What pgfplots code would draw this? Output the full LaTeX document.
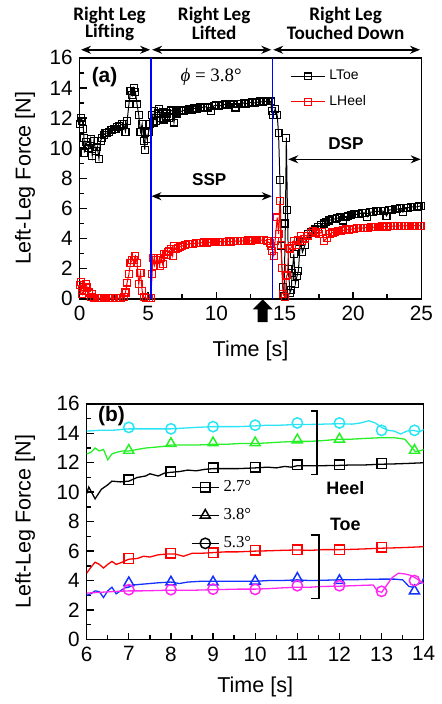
\documentclass[border=0pt]{standalone}
\usepackage{fontspec}
\setmainfont{Liberation Sans}
\newfontfamily\timesfont{Liberation Serif}
\newfontfamily\calfont{Carlito}
\usepackage{pgfplots}
\pgfplotsset{compat=1.18}
\usetikzlibrary{arrows.meta}
\definecolor{mycyan}{RGB}{40,228,245}
\definecolor{mygreen}{RGB}{40,240,40}
\definecolor{myblue}{RGB}{20,50,255}
\definecolor{mymag}{RGB}{255,40,240}
\pgfplotsset{
  common/.style={
    scale only axis, clip mode=individual,
    tick align=inside, tick pos=left,
    axis line style={line width=0.75pt},
    every tick/.style={line width=0.7pt, black},
    major tick length=3.5pt, minor tick length=2.3pt,
    ticklabel style={font=\fontsize{10.4}{12}\selectfont},
    /pgf/number format/assume math mode=true,
    label style={font=\fontsize{10.8}{12}\selectfont},
  }
}
\begin{document}
\begin{tikzpicture}[x=1pt,y=1pt]
\path (0,0) rectangle (217,-352);
% ---------------- panel (a)
\begin{axis}[common,
  at={(40pt,-149pt)}, anchor=south west, width=171.5pt, height=121pt,
  xmin=0, xmax=25, ymin=0, ymax=16,
  xtick={0,5,...,25}, ytick={0,2,...,16}, minor x tick num=1, minor y tick num=1,
  xlabel={Time [s]}, ylabel={Left-Leg Force [N]},
  xlabel style={at={(axis description cs:0.5,-0.215)}, anchor=center},
  ylabel style={at={(axis description cs:-0.16,0.5)}, anchor=center},
  legend style={at={(axis cs:15.25,15.6)}, anchor=north west, draw=none, fill=none,
    font=\fontsize{7}{8}\selectfont, row sep=2.2pt, inner sep=1pt},
  legend cell align=left,
]
\addplot[black, line width=0.5pt, mark=square, mark size=1.75pt, mark options={fill=white, solid, line width=0.55pt}] coordinates {
(0.00,11.6) (0.10,12.0) (0.20,11.8) (0.27,11.3) (0.31,10.7) (0.35,9.7) (0.45,10.4) (0.55,10.2)
(0.68,10.0) (0.80,10.6) (0.92,9.5) (1.04,10.5) (1.17,9.8) (1.29,10.1) (1.41,9.3) (1.53,10.5)
(1.65,10.7) (1.77,10.9) (1.89,11.0) (2.01,11.0) (2.14,11.1) (2.26,11.2) (2.38,11.2) (2.50,11.3)
(2.62,11.3) (2.74,11.4) (2.86,11.5) (2.98,11.5) (3.10,11.6) (3.22,11.6) (3.35,11.1) (3.47,11.8)
(3.60,12.9) (3.72,13.8) (3.84,13.5) (3.96,14.0) (4.08,13.7) (4.20,12.9) (4.32,12.2) (4.45,11.1)
(4.57,11.6) (4.69,10.5) (4.76,9.9) (4.81,11.0) (4.93,10.6) (5.05,11.1) (5.17,11.6) (5.30,12.2)
(5.40,11.7) (5.47,12.45) (5.60,11.8) (5.70,12.3) (5.83,12.6) (5.95,12.0) (6.07,12.4) (6.20,11.9)
(6.30,12.1) (6.42,12.3) (6.55,12.0) (6.68,12.5) (6.80,12.5) (6.90,11.7) (7.02,12.4) (7.15,12.3)
(7.30,12.5) (7.45,12.45) (7.60,12.5) (7.80,12.55) (8.00,12.6) (8.20,12.55) (8.40,12.65) (8.60,12.6)
(8.80,12.7) (9.00,12.7) (9.20,12.75) (9.40,12.7) (9.60,12.45) (9.80,12.8) (10.00,12.85) (10.20,12.8)
(10.40,12.85) (10.60,12.9) (10.80,12.85) (11.00,12.9) (11.20,12.9) (11.40,12.7) (11.60,12.95) (11.80,12.95)
(12.00,13.0) (12.20,12.95) (12.40,13.0) (12.60,13.05) (12.80,13.0) (13.00,13.05) (13.20,13.1) (13.40,13.05)
(13.60,13.1) (13.80,13.1) (13.97,13.1) (14.05,12.45) (14.15,12.2) (14.30,12.6) (14.45,12.2) (14.55,11.0)
(14.65,7.9) (14.75,3.5) (14.85,0.8) (14.95,0.2) (15.05,5.0) (15.12,10.7) (15.20,5.9) (15.28,2.0)
(15.38,0.4) (15.48,0.6) (15.55,1.7) (15.67,3.0) (15.78,1.0) (15.90,1.5) (16.00,1.85) (16.15,3.8)
(16.30,3.1) (16.50,3.6) (16.70,4.3) (16.90,4.4) (17.10,4.5) (17.25,4.6) (17.45,4.75) (17.65,4.9)
(17.85,5.0) (18.05,5.1) (18.25,5.2) (18.45,5.27) (18.65,5.3) (18.85,5.35) (19.05,5.4) (19.25,5.2)
(19.45,5.45) (19.65,5.5) (19.85,5.55) (20.05,5.6) (20.25,5.6) (20.45,5.65) (20.65,5.7) (20.85,5.7)
(21.05,5.45) (21.25,5.75) (21.45,5.75) (21.65,5.8) (21.85,5.8) (22.05,5.85) (22.25,5.8) (22.45,5.5)
(22.65,5.9) (22.85,5.9) (23.05,5.95) (23.25,5.95) (23.45,6.0) (23.65,5.75) (23.85,6.05) (24.05,6.05)
(24.25,6.1) (24.45,6.1) (24.65,6.1) (24.85,6.15) (25.00,6.15)
};
\addlegendentry{LToe}
\addplot[red, line width=0.5pt, mark=square, mark size=1.75pt, mark options={fill=white, solid, line width=0.55pt}] coordinates {
(0.00,0.9) (0.07,1.1) (0.15,0.6) (0.20,0.3) (0.32,0.5) (0.44,0.97) (0.56,0.75) (0.68,0.42)
(0.80,0.1) (0.92,0.35) (1.05,0.05) (1.25,0.05) (1.45,0.05) (1.65,0.05) (1.85,0.05) (2.05,0.05)
(2.25,0.05) (2.45,0.05) (2.65,0.05) (2.85,0.05) (3.05,0.05) (3.25,0.1) (3.35,0.42) (3.47,1.08)
(3.60,1.63) (3.72,2.4) (3.84,2.55) (3.96,2.6) (4.08,2.85) (4.20,2.4) (4.32,0.97) (4.45,1.74)
(4.57,0.53) (4.69,0.1) (4.85,0.05) (5.05,0.05) (5.20,0.05) (5.30,1.63) (5.35,2.7) (5.47,2.2)
(5.60,2.6) (5.70,2.7) (5.85,2.2) (5.95,2.7) (6.07,2.3) (6.20,3.0) (6.35,2.9) (6.45,3.1)
(6.56,3.2) (6.68,3.3) (6.80,2.85) (6.90,3.5) (7.05,3.3) (7.20,3.4) (7.35,3.45) (7.50,3.5)
(7.70,3.6) (7.90,3.62) (8.10,3.66) (8.30,3.65) (8.50,3.7) (8.70,3.7) (8.90,3.72) (9.10,3.75)
(9.30,3.72) (9.50,3.75) (9.70,3.78) (9.90,3.75) (10.10,3.78) (10.30,3.8) (10.50,3.78) (10.70,3.8)
(10.90,3.82) (11.10,3.8) (11.30,3.82) (11.50,3.85) (11.70,3.82) (11.90,3.85) (12.10,3.85) (12.30,3.87)
(12.50,3.85) (12.70,3.88) (12.90,3.9) (13.10,3.88) (13.30,3.9) (13.50,3.9) (13.70,3.84) (13.90,3.7)
(14.00,3.5) (14.10,3.2) (14.20,2.85) (14.30,3.84) (14.45,5.4) (14.55,4.3) (14.65,6.5) (14.72,3.6)
(14.80,2.07) (14.90,0.3) (15.05,0.1) (15.12,1.5) (15.20,1.6) (15.30,3.4) (15.40,3.3) (15.55,3.5)
(15.67,3.84) (15.80,3.6) (16.00,3.9) (16.16,4.17) (16.30,3.84) (16.50,4.0) (16.70,4.2) (16.90,4.35)
(17.10,4.5) (17.30,4.4) (17.50,4.28) (17.70,4.45) (17.90,3.85) (18.10,4.05) (18.30,4.3) (18.50,4.4)
(18.70,4.45) (18.90,4.5) (19.10,4.5) (19.30,4.55) (19.50,4.6) (19.70,4.6) (19.90,4.62) (20.10,4.65)
(20.30,4.68) (20.50,4.7) (20.70,4.7) (20.90,4.72) (21.10,4.72) (21.30,4.75) (21.50,4.75) (21.70,4.78)
(21.90,4.78) (22.10,4.8) (22.30,4.8) (22.50,4.8) (22.70,4.82) (22.90,4.82) (23.10,4.83) (23.30,4.83)
(23.50,4.84) (23.70,4.84) (23.90,4.85) (24.10,4.85) (24.30,4.85) (24.50,4.85) (24.70,4.85) (24.90,4.86)
(25.00,4.86)
};
\addlegendentry{LHeel}
\addplot[blue, line width=0.6pt, forget plot] coordinates {(5.22,0) (5.22,16)};
\addplot[blue, line width=0.6pt, forget plot] coordinates {(14.09,0) (14.09,16)};
% annotations
\node[font=\bfseries\fontsize{10.5}{12}\selectfont] at (axis cs:1.82,14.74) {(a)};
\node[font=\timesfont\fontsize{9.5}{11}\selectfont] at (axis cs:9.62,14.74) {\textit{ϕ} = 3.8°};
\node[font=\bfseries\fontsize{8.6}{10}\selectfont] at (axis cs:9.48,7.93) {SSP};
\node[font=\bfseries\fontsize{8.6}{10}\selectfont] at (axis cs:19.48,10.33) {DSP};
\draw[{Stealth[length=5pt,width=4pt]}-{Stealth[length=5pt,width=4pt]}, line width=0.75pt] (axis cs:5.25,6.81) -- (axis cs:14.06,6.81);
\draw[{Stealth[length=5pt,width=4pt]}-{Stealth[length=5pt,width=4pt]}, line width=0.75pt] (axis cs:15.26,9.26) -- (axis cs:24.95,9.26);
\draw[{Stealth[length=5pt,width=4pt]}-{Stealth[length=5pt,width=4pt]}, line width=0.75pt] (axis cs:0.1,16.53) -- (axis cs:5.15,16.53);
\draw[{Stealth[length=5pt,width=4pt]}-{Stealth[length=5pt,width=4pt]}, line width=0.75pt] (axis cs:5.3,16.53) -- (axis cs:14.02,16.53);
\draw[{Stealth[length=5pt,width=4pt]}-{Stealth[length=5pt,width=4pt]}, line width=0.75pt] (axis cs:14.16,16.53) -- (axis cs:24.9,16.53);
\node[font=\calfont\bfseries\fontsize{9.6}{11}\selectfont] at (axis cs:2.19,18.84) {Right Leg};
\node[font=\calfont\bfseries\fontsize{9.6}{11}\selectfont] at (axis cs:2.19,17.65) {Lifting};
\node[font=\calfont\bfseries\fontsize{9.6}{11}\selectfont] at (axis cs:9.84,18.84) {Right Leg};
\node[font=\calfont\bfseries\fontsize{9.6}{11}\selectfont] at (axis cs:9.84,17.65) {Lifted};
\node[font=\calfont\bfseries\fontsize{9.6}{11}\selectfont] at (axis cs:19.46,18.84) {Right Leg};
\node[font=\calfont\bfseries\fontsize{9.6}{11}\selectfont] at (axis cs:19.46,17.65) {Touched Down};
\fill[black] ([yshift=-0.3pt]axis cs:13.39,0) -- ([xshift=5pt,yshift=-5.3pt]axis cs:13.39,0)
  -- ([xshift=2.5pt,yshift=-5.3pt]axis cs:13.39,0) -- ([xshift=2.5pt,yshift=-11.7pt]axis cs:13.39,0)
  -- ([xshift=-2.5pt,yshift=-11.7pt]axis cs:13.39,0) -- ([xshift=-2.5pt,yshift=-5.3pt]axis cs:13.39,0)
  -- ([xshift=-5pt,yshift=-5.3pt]axis cs:13.39,0) -- cycle;
\end{axis}
% ---------------- panel (b)
\begin{axis}[common,
  at={(43.5pt,-320pt)}, anchor=south west, width=169.2pt, height=118.3pt,
  xmin=6, xmax=14, ymin=0, ymax=16,
  xtick={6,...,14}, ytick={0,2,...,16}, minor x tick num=1, minor y tick num=1,
  xlabel={Time [s]}, ylabel={Left-Leg Force [N]},
  xlabel style={at={(axis description cs:0.5,-0.203)}, anchor=center},
  ylabel style={at={(axis description cs:-0.183,0.5)}, anchor=center},
  legend style={at={(axis cs:8.42,11.25)}, anchor=north west, draw=none, fill=none,
    font=\timesfont\fontsize{8.4}{9}\selectfont, row sep=3pt, inner sep=1pt},
  legend cell align=left,
  legend image code/.code={\draw[mark repeat=2,mark phase=2] plot coordinates {(0cm,0cm) (0.24cm,0cm) (0.48cm,0cm)};},
  mk/.style={only marks, mark options={fill=white, solid, line width=0.75pt}, forget plot},
  ln/.style={line width=0.65pt, forget plot},
]
\addlegendimage{black, line width=0.65pt, mark=square, mark size=2.4pt, mark options={fill=white, solid, line width=0.75pt}}
\addlegendentry{2.7°}
\addlegendimage{black, line width=0.65pt, mark=triangle, mark size=2.9pt, mark options={fill=white, solid, line width=0.75pt}}
\addlegendentry{3.8°}
\addlegendimage{black, line width=0.65pt, mark=o, mark size=2.6pt, mark options={fill=white, solid, line width=0.75pt}}
\addlegendentry{5.3°}
% heel 5.3 (cyan)
\addplot[mycyan, ln] coordinates {(6.0,14.15) (6.3,14.2) (6.6,14.2) (7.0,14.3) (7.3,14.3) (7.6,14.3) (8.0,14.3) (8.3,14.35) (8.6,14.4) (9.0,14.45) (9.3,14.45) (9.6,14.45) (10.0,14.5) (10.3,14.55) (10.6,14.55) (11.0,14.6) (11.3,14.6) (11.6,14.62) (12.0,14.65) (12.3,14.62) (12.5,14.7) (12.7,14.85) (12.85,14.7) (13.0,14.4) (13.15,14.2) (13.3,14.15) (13.45,13.95) (13.6,14.15) (13.75,14.2) (13.9,14.1) (14.0,14.25)};
\addplot[mycyan, mk, mark=o, mark size=2.6pt] coordinates {(7,14.4) (8,14.3) (9,14.45) (10,14.55) (11,14.7) (12,14.7) (13,14.2) (13.78,14.2)};
% heel 3.8 (green)
\addplot[mygreen, ln] coordinates {(6.0,12.6) (6.1,12.7) (6.2,13.0) (6.3,12.8) (6.4,12.9) (6.5,12.2) (6.6,12.6) (6.7,12.7) (6.85,12.8) (7.0,12.8) (7.2,12.9) (7.4,13.0) (7.6,13.05) (7.8,13.1) (8.0,13.2) (8.3,13.2) (8.6,13.2) (9.0,13.25) (9.3,13.25) (9.6,13.3) (10.0,13.3) (10.3,13.35) (10.6,13.4) (11.0,13.45) (11.3,13.45) (11.6,13.5) (12.0,13.6) (12.3,13.6) (12.6,13.65) (13.0,13.7) (13.3,13.7) (13.55,13.6) (13.7,13.1) (13.8,12.75) (13.9,12.8) (14.0,12.9)};
\addplot[mygreen, mk, mark=triangle, mark size=2.9pt] coordinates {(7,12.84) (8,13.3) (9,13.35) (10,13.35) (11,13.55) (12,13.6) (13.78,12.84)};
% heel 2.7 (black)
\addplot[black, ln] coordinates {(6.0,9.9) (6.05,10.35) (6.2,9.55) (6.35,10.2) (6.5,10.5) (6.6,10.75) (6.8,10.7) (7.0,10.75) (7.2,11.0) (7.4,11.1) (7.5,11.25) (7.7,11.1) (7.85,11.3) (8.0,11.35) (8.2,11.4) (8.4,11.5) (8.6,11.45) (8.8,11.55) (9.0,11.6) (9.3,11.6) (9.6,11.6) (10.0,11.65) (10.3,11.7) (10.5,11.65) (10.7,11.75) (10.85,11.7) (11.0,11.8) (11.3,11.8) (11.6,11.8) (12.0,11.82) (12.3,11.85) (12.6,11.85) (13.0,11.9) (13.3,11.92) (13.6,11.95) (14.0,12.0)};
\addplot[black, mk, mark=square, mark size=2.4pt] coordinates {(7,10.85) (8,11.4) (9,11.65) (10,11.7) (11,11.85) (12,11.85) (13,11.95)};
% toe 2.7 (red)
\addplot[red, ln] coordinates {(6.0,4.5) (6.1,4.9) (6.2,5.25) (6.3,5.1) (6.4,4.85) (6.5,5.1) (6.6,5.3) (6.7,5.1) (6.8,5.2) (7.0,5.45) (7.2,5.5) (7.35,5.65) (7.5,5.6) (7.7,5.75) (7.9,5.8) (8.1,5.8) (8.3,5.65) (8.5,5.85) (8.7,5.85) (9.0,5.9) (9.3,5.95) (9.6,5.95) (10.0,6.0) (10.3,6.02) (10.6,6.05) (11.0,6.08) (11.3,6.05) (11.6,6.1) (12.0,6.1) (12.3,6.12) (12.6,6.15) (13.0,6.2) (13.3,6.22) (13.6,6.25) (14.0,6.3)};
\addplot[red, mk, mark=square, mark size=2.4pt] coordinates {(7,5.5) (8,5.85) (9,5.9) (10,6.05) (11,6.1) (12,6.1) (13,6.25)};
% toe 3.8 (blue)
\addplot[myblue, ln] coordinates {(6.0,3.0) (6.1,3.1) (6.2,3.3) (6.3,3.25) (6.4,2.85) (6.5,3.3) (6.6,3.55) (6.7,3.1) (6.8,3.3) (6.9,3.5) (7.0,3.55) (7.1,3.7) (7.3,3.75) (7.5,3.8) (7.7,3.85) (8.0,3.9) (8.2,3.8) (8.4,3.9) (8.7,3.95) (9.0,3.95) (9.5,3.95) (10.0,3.95) (10.3,4.0) (10.6,4.0) (11.0,4.05) (11.3,4.0) (11.6,4.02) (12.0,4.05) (12.3,4.05) (12.6,4.08) (13.0,4.1) (13.3,4.1) (13.5,4.05) (13.65,3.6) (13.75,3.55) (13.85,3.75) (13.95,3.85) (14.0,4.2)};
\addplot[myblue, mk, mark=triangle, mark size=2.9pt] coordinates {(7,3.85) (8,3.9) (9,3.9) (10,3.95) (11,4.15) (12,4.0) (13.78,3.3)};
% toe 5.3 (magenta)
\addplot[mymag, ln] coordinates {(6.0,3.15) (6.3,3.2) (6.6,3.25) (7.0,3.3) (7.3,3.3) (7.6,3.32) (8.0,3.35) (8.3,3.35) (8.6,3.35) (9.0,3.38) (9.3,3.4) (9.6,3.42) (10.0,3.42) (10.3,3.45) (10.6,3.5) (11.0,3.55) (11.3,3.55) (11.6,3.6) (12.0,3.62) (12.3,3.65) (12.6,3.68) (12.8,3.7) (12.9,3.3) (13.0,3.2) (13.1,3.6) (13.25,4.2) (13.4,4.5) (13.55,4.45) (13.7,4.35) (13.85,4.1) (14.0,3.8)};
\addplot[mymag, mk, mark=o, mark size=2.6pt] coordinates {(7,3.38) (8,3.38) (9,3.42) (10,3.4) (11,3.65) (12,3.65) (13,3.27) (13.78,4.0)};
% brackets and labels
\draw[line width=0.75pt] (axis cs:11.32,15.5) -- (axis cs:11.47,15.5) -- (axis cs:11.47,11.2) -- (axis cs:11.32,11.2);
\draw[line width=0.75pt] (axis cs:11.32,7.1) -- (axis cs:11.51,7.1) -- (axis cs:11.51,2.8) -- (axis cs:11.32,2.8);
\node[font=\bfseries\fontsize{9}{10}\selectfont] at (axis cs:12.14,10.25) {Heel};
\node[font=\bfseries\fontsize{9}{10}\selectfont] at (axis cs:12.14,7.84) {Toe};
\node[font=\bfseries\fontsize{10.5}{12}\selectfont] at (axis cs:6.59,15.2) {(b)};
\end{axis}
\end{tikzpicture}
\end{document}
